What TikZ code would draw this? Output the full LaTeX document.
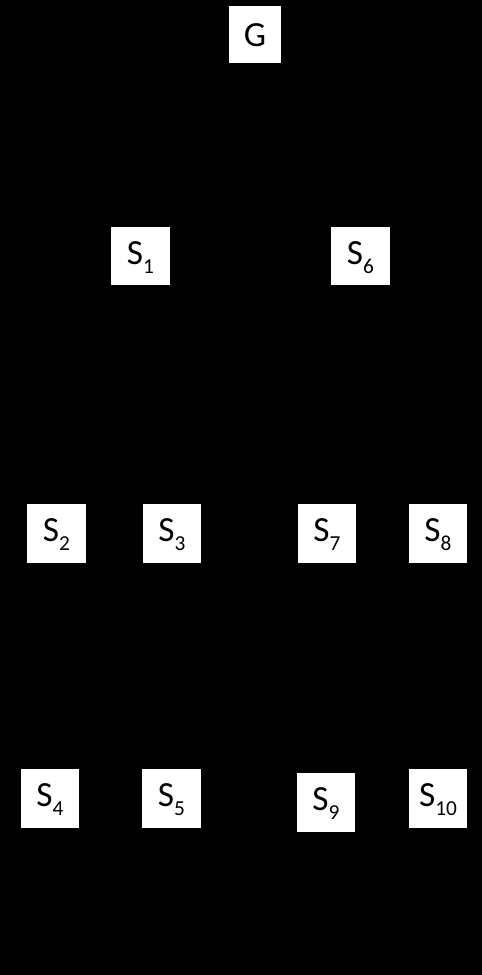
\documentclass[tikz,border=0pt]{standalone}
\usepackage{fontspec}
\setmainfont{Carlito}
\newcommand{\sub}[1]{\raisebox{-6.5pt}{\fontsize{16pt}{17pt}\selectfont #1}}
\begin{document}
\begin{tikzpicture}[x=0.75pt,y=-0.75pt,
  box/.style={fill=white,draw=none,inner sep=0pt,font=\fontsize{26.5pt}{28pt}\selectfont,text=black,text height=12.5pt,text depth=0pt}]
\fill[black] (0,0) rectangle (482,975);
\useasboundingbox (0,0) rectangle (482,975);
\newcommand{\bx}[7][]{\node[box,#1,minimum width={(#4-#3)*0.75pt},minimum height={(#6-#5)*0.75pt}] (#2) at ({(#3+#4)/2},{(#5+#6)/2}) {#7};}
\bx[text height=18pt]{G}{229}{281}{6}{63}{G}
\bx{s1}{111}{170}{227}{285}{S\sub{1}}
\bx{s6}{331}{390}{227}{285}{S\sub{6}}
\bx{s2}{27}{86}{504}{563}{S\sub{2}}
\bx{s3}{143}{201}{504}{563}{S\sub{3}}
\bx{s7}{298}{356}{504}{563}{S\sub{7}}
\bx{s8}{409}{467}{504}{563}{S\sub{8}}
\bx{s4}{21}{79}{769}{828}{S\sub{4}}
\bx{s5}{142}{201}{769}{828}{S\sub{5}}
\bx{s9}{297}{355}{773}{832}{S\sub{9}}
\bx{s10}{409}{467}{769}{828}{S\sub{10}}
\end{tikzpicture}
\end{document}
